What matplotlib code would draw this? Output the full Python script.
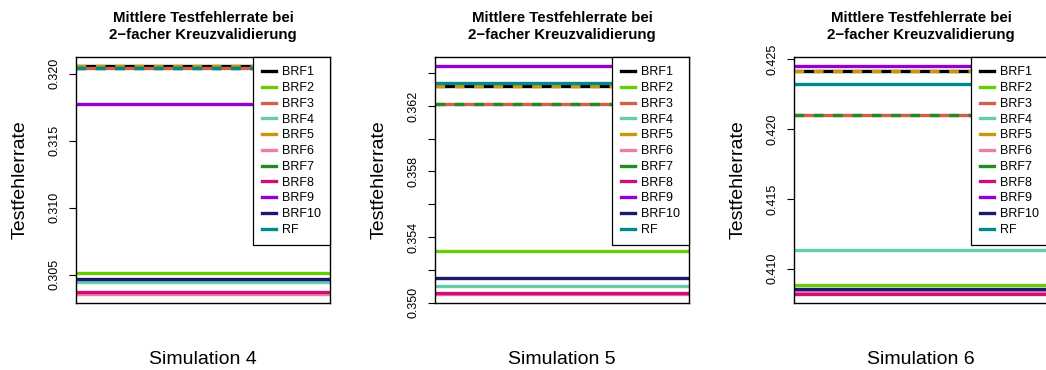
import matplotlib
matplotlib.use("Agg")
import matplotlib.pyplot as plt
from matplotlib.lines import Line2D

plt.rcParams['font.family'] = ['Liberation Sans', 'DejaVu Sans']

# --- Daten ---
modelle = ["BRF1", "BRF2", "BRF3", "BRF4", "BRF5", "BRF6",
           "BRF7", "BRF8", "BRF9", "BRF10", "RF"]
farben = ["#000000", "#66CD00", "#D4604A", "#66CDAA", "#CD950C", "#EE7FA0",
          "#228B22", "#CD1076", "#9400D3", "#191970", "#008B8B"]

simulationen = ["Simulation 4", "Simulation 5", "Simulation 6"]

fehler_sim4 = [0.32056, 0.30510, 0.32045, 0.30441, 0.32056, 0.30356,
               0.32045, 0.30371, 0.31776, 0.30470, 0.32045]
fehler_sim5 = [0.36322, 0.35312, 0.36212, 0.35101, 0.36322, 0.35053,
               0.36212, 0.35061, 0.36443, 0.35150, 0.36342]
fehler_sim6 = [0.42420, 0.40881, 0.42099, 0.41134, 0.42420, 0.40838,
               0.42099, 0.40819, 0.42452, 0.40852, 0.42321]

# gestrichelte Linien (überdeckte Werte sichtbar machen)
gestrichelt_sim4 = ["BRF5", "BRF7", "RF"]
gestrichelt_sim5 = ["BRF5", "BRF7"]
gestrichelt_sim6 = ["BRF5", "BRF7"]

yticks_sim4 = [0.305, 0.310, 0.315, 0.320]
ylabels_sim4 = ["0.305", "0.310", "0.315", "0.320"]
yticks_sim5 = [0.350, 0.352, 0.354, 0.356, 0.358, 0.360, 0.362, 0.364]
ylabels_sim5 = ["0.350", "", "0.354", "", "0.358", "", "0.362", ""]
yticks_sim6 = [0.410, 0.415, 0.420, 0.425]
ylabels_sim6 = ["0.410", "0.415", "0.420", "0.425"]

titel = "Mittlere Testfehlerrate bei\n2\u2212facher Kreuzvalidierung"


def panel(ax, fehler, gestrichelt, yticks, ylabels, xlabel):
    for name, wert, farbe in zip(modelle, fehler, farben):
        if name in gestrichelt:
            ax.axhline(wert, color=farbe, lw=2.4, linestyle=(0, (2.9, 2.9)))
        else:
            ax.axhline(wert, color=farbe, lw=2.4)

    lo, hi = min(fehler), max(fehler)
    rand = 0.04 * (hi - lo)
    ax.set_ylim(lo - rand, hi + rand)
    ax.set_xlim(0, 1)
    ax.set_xticks([])
    ax.set_yticks(yticks, ylabels, rotation=90, va='center')
    ax.tick_params(axis='y', direction='out', length=5.4, width=0.8,
                   labelsize=9, pad=6)
    for s in ax.spines.values():
        s.set_linewidth(1.0)
        s.set_color("black")

    ax.set_title(titel, fontweight='bold', fontsize=10.8, linespacing=1.3, pad=12.6)
    ax.set_ylabel("Testfehlerrate", fontsize=14)
    ax.yaxis.set_label_coords(-0.185, 0.5)
    ax.set_xlabel(xlabel, fontsize=14)
    ax.xaxis.set_label_coords(0.5, -0.195)

    griffe = [Line2D([0], [0], color=f, lw=2.4) for f in farben]
    leg = ax.legend(griffe, modelle, loc='upper right', bbox_to_anchor=(1, 1),
                    borderaxespad=0, fontsize=9, handlelength=1.12,
                    handletextpad=0.45, labelspacing=0.3, borderpad=0.75,
                    fancybox=False, framealpha=1, edgecolor='black')
    leg.get_frame().set_linewidth(0.9)


fig = plt.figure(figsize=(10.46, 3.70), dpi=100)
breite, hoehe = 254 / 1046, 246 / 370
unten = 1 - 303 / 370
links = [76 / 1046, 435 / 1046, 794 / 1046]

daten = [
    (fehler_sim4, gestrichelt_sim4, yticks_sim4, ylabels_sim4),
    (fehler_sim5, gestrichelt_sim5, yticks_sim5, ylabels_sim5),
    (fehler_sim6, gestrichelt_sim6, yticks_sim6, ylabels_sim6),
]

for x0, (fehler, gestr, yt, yl), sim in zip(links, daten, simulationen):
    ax = fig.add_axes([x0, unten, breite, hoehe])
    panel(ax, fehler, gestr, yt, yl, sim)

fig.savefig("out.png", dpi=100)
